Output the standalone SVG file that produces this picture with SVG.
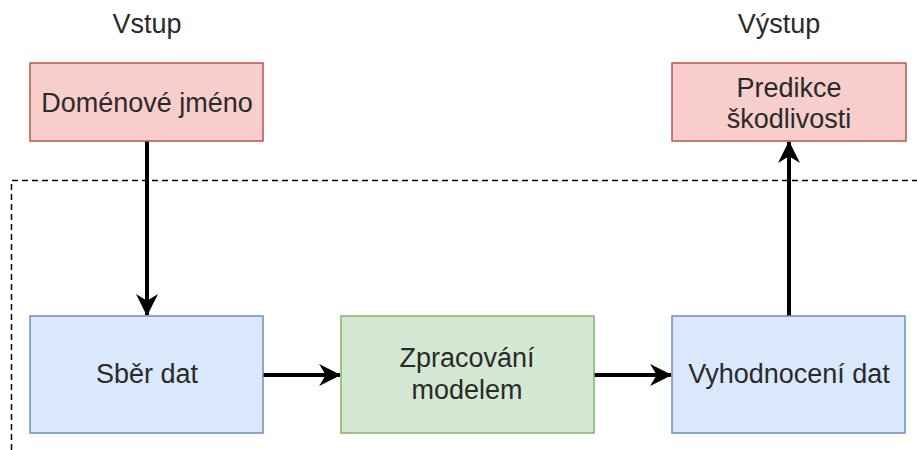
<svg xmlns="http://www.w3.org/2000/svg" width="917" height="450" viewBox="0 0 917 450">
<defs>
<style>
text{font-family:"Liberation Sans",Arial,sans-serif;font-size:27px;fill:#2a2a2a;text-anchor:middle}
.red{fill:#f8cecc;stroke:#b85450;stroke-width:1.5}
.blue{fill:#dae8fc;stroke:#6c8ebf;stroke-width:1.5}
.green{fill:#d5e8d4;stroke:#82b366;stroke-width:1.5}
.conn{stroke:#000;stroke-width:4;fill:none;marker-end:url(#ah)}
</style>
<marker id="ah" viewBox="0 0 10 10" refX="9.5" refY="5" markerWidth="5.5" markerHeight="5.5" markerUnits="strokeWidth" orient="auto">
<path d="M0,0 L10,5 L0,10 L3,5 Z" fill="#000"/>
</marker>
</defs>
<rect width="917" height="450" fill="#fff"/>
<path id="boundary" d="M11.5,450 V180.5 H917" fill="none" stroke="#000" stroke-width="1.5" stroke-dasharray="6,4"/>
<text x="147" y="33">Vstup</text>
<text x="779" y="33">Výstup</text>
<g id="connectors">
<path class="conn" d="M147,141 V315"/>
<path class="conn" d="M789,316 V142"/>
<path class="conn" d="M263,375 H340"/>
<path class="conn" d="M594,375 H671"/>
</g>
<g id="domain">
<rect class="red" x="30" y="63" width="233" height="78"/>
<text x="147" y="112">Doménové jméno</text>
</g>
<g id="prediction">
<rect class="red" x="672" y="63" width="234" height="78"/>
<text x="789" y="97">Predikce</text>
<text x="789" y="128">škodlivosti</text>
</g>
<g id="collect">
<rect class="blue" x="30" y="316" width="233" height="117"/>
<text x="147" y="383">Sběr dat</text>
</g>
<g id="model">
<rect class="green" x="341" y="316" width="253" height="117"/>
<text x="467" y="367">Zpracování</text>
<text x="467" y="399">modelem</text>
</g>
<g id="evaluate">
<rect class="blue" x="672" y="316" width="233" height="117"/>
<text x="789" y="383">Vyhodnocení dat</text>
</g>
</svg>
